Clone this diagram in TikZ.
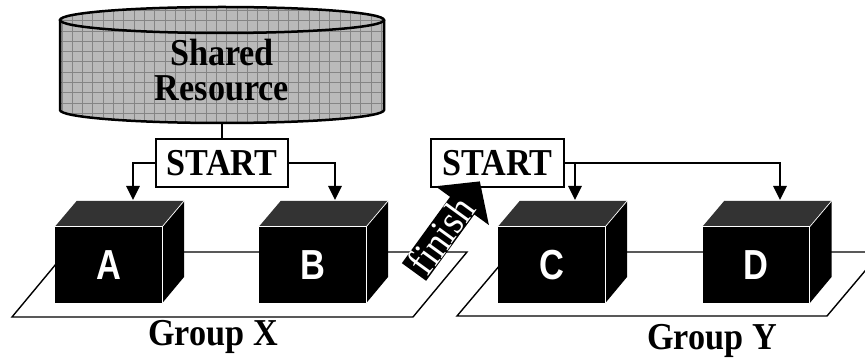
\documentclass[tikz,border=0pt]{standalone}
\usepackage{fontspec}
\setmainfont{Liberation Serif}
\newfontfamily\serifcond[FakeStretch=0.9]{Liberation Serif}
\newfontfamily\sanscond[FakeStretch=0.82]{Liberation Sans}
\usetikzlibrary{arrows.meta}
\begin{document}
\begin{tikzpicture}[x=1pt,y=-1pt,
  conn/.style={line width=2.8pt},
  arr/.style={conn,-{Triangle[width=13pt,length=14pt]}},
  plat/.style={line width=1.4pt},
  labelfont/.style={font=\serifcond\fontsize{38}{35}\selectfont\bfseries},
  startbox/.style={labelfont,draw,line width=1.2pt,fill=white,minimum width=132pt,minimum height=48pt,inner sep=0pt},
  cubefront/.style={fill=black,minimum width=107pt,minimum height=76pt,inner sep=0pt,font=\sanscond\fontsize{42}{42}\selectfont\bfseries,text=white},
  topface/.style={fill=black!80},
  sideface/.style={fill=black},
  cubeedge/.style={white,line width=0.7pt},
  grouplabel/.style={labelfont,anchor=base},
  cyloutline/.style={line width=2.5pt},
]
\useasboundingbox (0,0) rectangle (865,363);
\clip (0,0) rectangle (865,363);
\fill[white] (0,0) rectangle (865,363);

% shared resource cylinder
\begin{scope}
  \clip (60,20) -- (60,110) arc[start angle=180,end angle=0,x radius=162,y radius=13]
        -- (384,20) arc[start angle=0,end angle=-180,x radius=162,y radius=13] -- cycle;
  \fill[black!27] (40,0) rectangle (400,130);
  \draw[black!48,line width=0.6pt,step=10.3pt] (55,0) grid (390,130);
\end{scope}
\draw[cyloutline] (60,20) -- (60,110) arc[start angle=180,end angle=0,x radius=162,y radius=13] -- (384,20);
\draw[cyloutline] (222,20) ellipse[x radius=162,y radius=13];
\node[labelfont,align=center,inner sep=0pt] (res) at (222,70) {Shared\\Resource};
\coordinate (cylb) at (222,123);

% platforms
\draw[plat] (12,317) -- (413,317) -- (467,252) -- (66,252) -- cycle;
\draw[plat] (457,316) -- (827,316) -- (881,252) -- (511,252) -- cycle;

% cubes
\foreach \n/\x in {A/108.5,B/312.5,C/551.5,D/756}{
  \node[cubefront] (\n) at (\x,265) {\n};
  \fill[topface] (\n.north west) -- ++(22,-26) -- ++(107,0) -- (\n.north east) -- cycle;
  \fill[sideface] (\n.north east) -- ++(22,-26) -- ++(0,76) -- (\n.south east) -- cycle;
  \draw[cubeedge] (\n.north west) -- (\n.north east) -- (\n.south east);
  \draw[cubeedge] (\n.north east) -- ++(22,-26);
}

% start boxes
\node[startbox] (s1) at (222,163) {START};
\node[startbox,minimum width=133pt] (s2) at (497.5,163) {START};

\coordinate (a1) at (133,200);
\coordinate (b1) at (335,200);
\coordinate (c1) at (575,200);
\coordinate (d1) at (780,200);

\draw[conn] (cylb) -- (cylb |- s1.north);
\draw[arr] (s1.west) -| (a1);
\draw[arr] (s1.east) -| (b1);
\draw[arr] (s2.east) -| (d1);
\draw[arr] (s2.east -| c1) -- (c1);

% finish arrow
\begin{scope}[shift={(414,272)},rotate=54]
  \fill[black] (0,-15) -- (82,-15) -- (82,-33) -- (112,0) -- (82,33) -- (82,15) -- (0,15) -- cycle;
\end{scope}
\node[text=white,font=\serifcond\fontsize{41}{41}\selectfont,rotate=54,inner sep=0pt] (fin) at (441,235) {finish};

% group labels
\node[grouplabel] (gx) at (213,345) {Group X};
\node[grouplabel] (gy) at (712,350) {Group Y};
\end{tikzpicture}
\end{document}
